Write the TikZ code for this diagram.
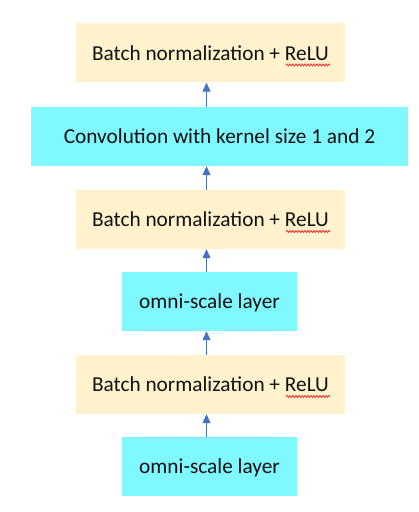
\documentclass[tikz,border=0pt]{standalone}
\usepackage{fontspec}
\setmainfont{Carlito}
\usetikzlibrary{arrows.meta,decorations.pathmorphing,calc}
\definecolor{bnfill}{HTML}{FFF2CC}
\definecolor{convfill}{HTML}{7FF8FF}
\definecolor{arrowblue}{HTML}{4472C4}
\definecolor{textdark}{HTML}{111111}
\definecolor{spellred}{HTML}{F03C3C}
\newcommand{\boxfont}{\fontsize{21.3bp}{25bp}\selectfont}
\begin{document}
\begin{tikzpicture}[x=1bp,y=-1bp,
  blk/.style={rectangle,inner sep=0pt,text height=14.5bp,text depth=0bp,
    font=\boxfont,text=textdark},
  bnbox/.style={blk,fill=bnfill,minimum width=269bp,minimum height=59bp},
  convbox/.style={blk,fill=convfill,minimum width=377bp,minimum height=59bp},
  omnibox/.style={blk,fill=convfill,minimum width=175bp,minimum height=59bp},
  flow/.style={draw=arrowblue,line width=1.3bp,-{Triangle[width=8bp,length=9bp]}},
  spell/.style={draw=spellred,line width=0.9bp,decorate,
    decoration={snake,amplitude=1bp,segment length=3bp}}]
\useasboundingbox (0,0) rectangle (418,512);
\node[bnbox]   (bn1)  at (210.5,53)  {Batch normalization + ReLU};
\node[convbox] (conv) at (219.5,136.5) {Convolution with kernel size 1 and 2};
\node[bnbox]   (bn2)  at (210.5,219.5) {Batch normalization + ReLU};
\node[omnibox] (om1)  at (209.5,301.5) {omni-scale layer};
\node[bnbox]   (bn3)  at (210.5,384.5) {Batch normalization + ReLU};
\node[omnibox] (om2)  at (209.5,466.5) {omni-scale layer};
\coordinate (ax) at (206.5,0);
\draw[flow] (om2.north -| ax) -- (bn3.south -| ax);
\draw[flow] (bn3.north -| ax) -- (om1.south -| ax);
\draw[flow] (om1.north -| ax) -- (bn2.south -| ax);
\draw[flow] (bn2.north -| ax) -- (conv.south -| ax);
\draw[flow] (conv.north -| ax) -- (bn1.south -| ax);
\foreach \b in {bn1,bn2,bn3}{
  \draw[spell] ($(\b.center)+(75.5,12)$) -- ($(\b.center)+(119.5,12)$);
}
\end{tikzpicture}
\end{document}
